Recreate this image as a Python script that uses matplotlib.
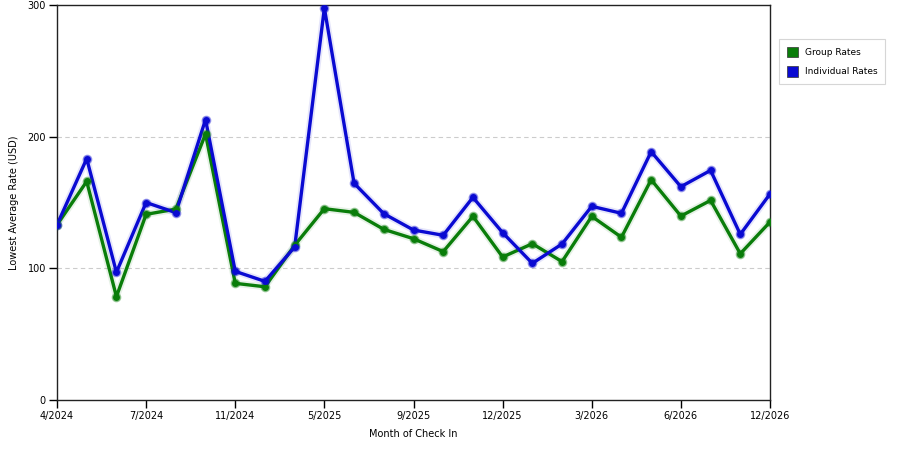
import matplotlib
matplotlib.use("Agg")
import matplotlib.pyplot as plt
from matplotlib.patches import Patch

months = ["4/2024", "5/2024", "6/2024", "7/2024", "8/2024", "10/2024", "11/2024",
          "12/2024", "3/2025", "5/2025", "6/2025", "7/2025", "9/2025", "10/2025",
          "11/2025", "12/2025", "1/2026", "2/2026", "3/2026", "4/2026", "5/2026",
          "6/2026", "8/2026", "10/2026", "12/2026"]
group_rates = [133, 166, 78.5, 141, 145, 202, 88.6, 86, 117.5, 145.3, 142.5, 129.6,
               122.5, 112.7, 139.5, 108.6, 118.7, 105.1, 139.5, 123.6, 167.3, 139.7,
               151.6, 111.1, 135.2]
individual_rates = [133, 183.3, 97, 150, 142.3, 213, 97.7, 90.1, 116.2, 297.7, 164.6,
                    141.5, 129.1, 125.1, 153.9, 127.1, 103.8, 118.5, 147.1, 141.8,
                    188.6, 162, 174.4, 125.8, 156.5]
label_idx = [0, 3, 6, 9, 12, 15, 18, 21, 24]

green = "#0a7d0a"
blue = "#0a0ad2"

fig = plt.figure(figsize=(9, 4.5), dpi=100)
ax = fig.add_axes([57/900, 1-400/450, (770-57)/900, (400-5)/450])
x = list(range(len(months)))

for vals, c in [(group_rates, green), (individual_rates, blue)]:
    ax.plot(x, vals, color=c, lw=5, alpha=0.10, solid_capstyle="round", zorder=2)
    ax.plot(x, vals, color=c, lw=2.4, zorder=3)
    ax.plot(x, vals, ls="none", marker="o", ms=6, mfc=c, mec=c, alpha=0.35, zorder=4)
    ax.plot(x, vals, ls="none", marker="o", ms=4, mfc=c, mec=c, zorder=5)

ax.set_xlim(0, len(months) - 1)
ax.set_ylim(0, 300)
ax.set_yticks([0, 100, 200, 300])
ax.set_xticks(label_idx)
ax.set_xticklabels([months[i] for i in label_idx])
ax.tick_params(labelsize=7, length=6, width=1, colors="black", pad=2)
for y in [100, 200]:
    ax.axhline(y, color="#cccccc", lw=0.8, ls=(0, (4, 3)), zorder=1)
for s in ax.spines.values():
    s.set_color("#222222")
    s.set_linewidth(1)

ax.set_xlabel("Month of Check In", fontsize=7, labelpad=6)
ax.set_ylabel("Lowest Average Rate (USD)", fontsize=7, labelpad=6)

handles = [Patch(facecolor=green, edgecolor="#333333", lw=0.5, label="Group Rates"),
           Patch(facecolor=blue, edgecolor="#333333", lw=0.5, label="Individual Rates")]
leg = fig.legend(handles=handles, loc="upper left", bbox_to_anchor=(779/900, 1-39/450),
                 bbox_transform=fig.transFigure, borderaxespad=0, fontsize=6.5,
                 frameon=True, fancybox=False, handlelength=1.2, handleheight=1.4,
                 borderpad=0.85, labelspacing=1.0, handletextpad=0.8)
leg.get_frame().set_edgecolor("#cccccc")
leg.get_frame().set_linewidth(0.8)

fig.savefig("out.png", dpi=100)
